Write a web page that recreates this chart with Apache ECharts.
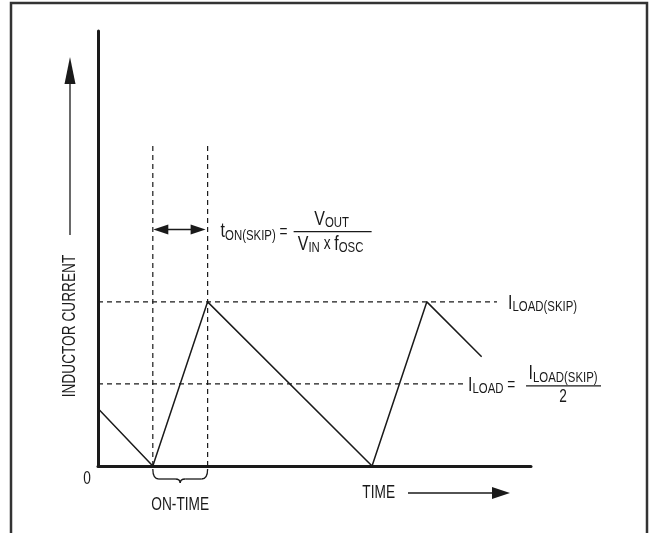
<!DOCTYPE html>
<html>
<head>
<meta charset="utf-8">
<script src="https://cdn.jsdelivr.net/npm/echarts@6/dist/echarts.min.js"></script>
<style>
  html, body { margin: 0; padding: 0; background: #fff; }
  #chart { width: 650px; height: 533px; }
</style>
</head>
<body>
<div id="chart"></div>
<script>
// inductor current in skip mode
const timePts = [0, 1, 2, 5, 6, 7];
const currentPts = [0.7, 0, 2, 0, 2, 1.33];
const loadSkip = 2;          // ILOAD(SKIP)
const load = 1;              // ILOAD = ILOAD(SKIP) / 2
const onTime = [1, 2];       // on-time start / end
const skipLineEnd = 7.28;
const loadLineEnd = 6.66;
const guideTop = 3.9;
const spanArrowY = 2.88;
const xMax = 7.9;
const yMax = 5.3;

// no condensed font installed, so squeeze Liberation Sans instead
const FONT = '"Liberation Sans", Arial, sans-serif';
const SQUEEZE = 0.76;
const INK = '#1a1a1a';

const dashed = (name, data) => ({
    name: name,
    type: 'line',
    data: data,
    symbol: 'none',
    clip: false,
    silent: true,
    lineStyle: { color: INK, width: 1.2, type: [5, 4] },
    z: 2,
});

const chart = echarts.init(document.getElementById('chart'));
chart.setOption({
    animation: false,
    grid: { left: 98, right: 119, top: 31, bottom: 67 },
    xAxis: {
        type: 'value', min: 0, max: xMax,
        axisLine: { show: true, onZero: false, lineStyle: { color: INK, width: 3 } },
        axisTick: { show: false }, axisLabel: { show: false }, splitLine: { show: false },
    },
    yAxis: {
        type: 'value', min: 0, max: yMax,
        axisLine: { show: true, onZero: false, lineStyle: { color: INK, width: 3 } },
        axisTick: { show: false }, axisLabel: { show: false }, splitLine: { show: false },
    },
    series: [
        dashed('skip', [[0, loadSkip], [skipLineEnd, loadSkip]]),
        dashed('load', [[0, load], [loadLineEnd, load]]),
        dashed('onStart', [[onTime[0], 0], [onTime[0], guideTop]]),
        dashed('onEnd', [[onTime[1], 0], [onTime[1], guideTop]]),
        {
            name: 'current',
            type: 'line',
            data: timePts.map((t, i) => [t, currentPts[i]]),
            symbol: 'none',
            clip: false,
            lineStyle: { color: INK, width: 1.5 },
            z: 3,
        },
    ],
});

// annotations, placed from the data scale
const px = (x, y) => chart.convertToPixel({ gridIndex: 0 }, [x, y]);
const O = px(0, 0);
const xEnd = px(xMax, 0)[0];

const RICH = {
    m: { fontSize: 21, fontFamily: FONT, fill: INK, lineHeight: 23 },
    s: { fontSize: 15, fontFamily: FONT, fill: INK, lineHeight: 15, padding: [8, 0, 0, 0] },
    n: { fontSize: 18, fontFamily: FONT, fill: INK, lineHeight: 23 },
};
const txt = (text, x, y, align, vAlign, rot) => ({
    type: 'text',
    x: x, y: y, rotation: rot || 0, scaleX: SQUEEZE,
    style: {
        text: text, x: 0, y: 0, align: align, verticalAlign: vAlign,
        fontSize: 18, fontFamily: FONT, fill: INK, rich: RICH,
    },
});
const seg = (x1, y1, x2, y2, w) => ({
    type: 'line',
    shape: { x1: x1, y1: y1, x2: x2, y2: y2 },
    style: { stroke: INK, lineWidth: w || 1.3 },
});
const head = (tx, ty, dx, dy, len, wid) => ({
    type: 'polygon',
    shape: {
        points: [
            [tx, ty],
            [tx - dx * len - dy * wid / 2, ty - dy * len + dx * wid / 2],
            [tx - dx * len + dy * wid / 2, ty - dy * len - dx * wid / 2],
        ],
    },
    style: { fill: INK },
});
const curve = (x1, y1, cx, cy, x2, y2) => ({
    type: 'bezierCurve',
    shape: { x1: x1, y1: y1, cpx1: cx, cpy1: cy, x2: x2, y2: y2 },
    style: { stroke: INK, lineWidth: 1.3, fill: 'none' },
});

const g = [];
// outer frame
g.push({ type: 'rect', shape: { x: 11, y: 3, width: 636, height: 560 },
    style: { stroke: '#333', lineWidth: 2.5, fill: 'none' }, z: 0 });

// y axis title and arrow
const ax = O[0] - 28;
g.push(seg(ax, O[1] - 231, ax, O[1] - 400));
g.push(head(ax, O[1] - 409, 0, -1, 27, 11));
g.push(txt('INDUCTOR CURRENT', ax, O[1] - 140, 'center', 'middle', Math.PI / 2));
g.push(txt('0', O[0] - 11, O[1] + 13, 'center', 'middle'));

// x axis title and arrow
const ty = O[1] + 27;
g.push(txt('TIME', xEnd - 136, ty, 'right', 'middle'));
g.push(seg(xEnd - 123, ty, xEnd - 30, ty));
g.push(head(xEnd - 21, ty, 1, 0, 18, 12));

// on-time brace
const b1 = px(onTime[0], 0)[0], b2 = px(onTime[1], 0)[0], bm = (b1 + b2) / 2;
const by = O[1] + 3;
g.push(curve(b1, by, b1, by + 10, b1 + 6, by + 10));
g.push(seg(b1 + 6, by + 10, bm - 5, by + 10));
g.push(curve(bm - 5, by + 10, bm, by + 10, bm, by + 14));
g.push(curve(bm, by + 14, bm, by + 10, bm + 5, by + 10));
g.push(seg(bm + 5, by + 10, b2 - 6, by + 10));
g.push(curve(b2 - 6, by + 10, b2, by + 10, b2, by));
g.push(txt('ON-TIME', bm, O[1] + 39, 'center', 'middle'));

// on-time span arrow
const s1 = px(onTime[0], spanArrowY), s2 = px(onTime[1], spanArrowY);
g.push(seg(s1[0] + 10, s1[1], s2[0] - 12, s2[1], 1.5));
g.push(head(s1[0] + 0.5, s1[1], -1, 0, 15, 10));
g.push(head(s2[0] - 2, s2[1], 1, 0, 15, 10));

// tON(SKIP) formula
const A = s2;
g.push(txt('{m|t}{s|ON(SKIP)}{n| =}', A[0] + 13, A[1] + 2, 'left', 'middle'));
g.push(seg(A[0] + 86, A[1] + 2, A[0] + 164, A[1] + 2, 1.2));
g.push(txt('{m|V}{s|OUT}', A[0] + 124, A[1] + 1, 'center', 'bottom'));
g.push(txt('{m|V}{s|IN}{n| x }{m|f}{s|OSC}', A[0] + 123, A[1] + 3, 'center', 'top'));

// ILOAD(SKIP) label
const B = px(skipLineEnd, loadSkip);
g.push(txt('{m|I}{s|LOAD(SKIP)}', B[0] + 11, B[1] + 1, 'left', 'middle'));

// ILOAD = ILOAD(SKIP) / 2
const C = px(loadLineEnd, load);
g.push(txt('{m|I}{s|LOAD}{n| =}', C[0] + 5, C[1] + 1, 'left', 'middle'));
g.push(seg(C[0] + 63, C[1] + 2, C[0] + 138, C[1] + 2, 1.2));
g.push(txt('{m|I}{s|LOAD(SKIP)}', C[0] + 100, C[1] + 1, 'center', 'bottom'));
g.push(txt('2', C[0] + 100, C[1] + 4, 'center', 'top'));

chart.setOption({ graphic: g });
</script>
</body>
</html>
